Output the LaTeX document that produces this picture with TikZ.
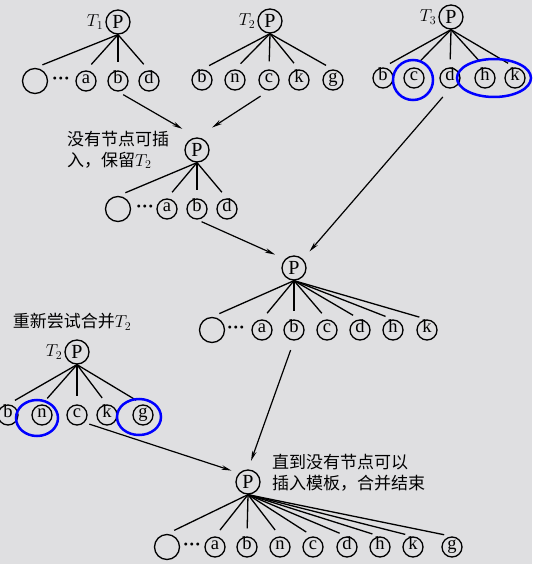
\documentclass[tikz,border=0pt]{standalone}
\usepackage{fontspec}
\setmainfont{Liberation Serif}
\newfontfamily\cjk{Noto Sans CJK SC}
\usepackage{tikz}
\usetikzlibrary{arrows.meta,positioning}
\definecolor{paper}{RGB}{223,223,225}

\begin{document}
\begin{tikzpicture}[x=1pt,y=-1pt,>={Stealth[length=10pt,width=4.5pt]}]
	\tikzstyle{root} = [draw, shape=circle, minimum size=24pt, inner sep=0pt, line width=1.3pt, font=\fontsize{20}{20}\selectfont]
	\tikzstyle{leaf} = [draw, shape=circle, minimum size=20pt, inner sep=0pt, line width=1.3pt, text height=0.68em, text depth=0.2em, font=\fontsize{18.5}{18.5}\selectfont]
	\tikzstyle{hole} = [draw, shape=circle, minimum size=25pt, inner sep=0pt, line width=1.3pt]
	\tikzstyle{dots} = [inner sep=0pt, font=\bfseries\fontsize{18}{18}\selectfont]
	\tikzstyle{tname} = [font=\fontsize{18}{18}\selectfont, inner sep=2pt]
	\tikzstyle{note} = [align=left, inner sep=0pt, font=\cjk\fontsize{17}{21}\selectfont]
	\tikzstyle{twig} = [line width=1.3pt, shorten >=8pt]
	\tikzstyle{flow} = [->, line width=1.2pt]
	\tikzstyle{ring} = [draw=blue, line width=2.5pt]
	\path[use as bounding box, fill=paper] (0,0) rectangle (532,564);
	%Tree T1
	\node [root, label={[tname]left:$T_1$}] (p1) at (118,22) {P};
	\node [hole] (e1) at (35,81) {};
	\node [dots] (dots1) at (61,81) {···};
	\node [leaf] (a1) at (86,81) {a};
	\node [leaf] (b1) at (118,81) {b};
	\node [leaf] (d1) at (149,81) {d};
	%Tree T2
	\node [root, label={[tname]left:$T_2$}] (p2) at (270,21) {P};
	\node [leaf] (b2) at (202,80) {b};
	\node [leaf] (n2) at (235,80) {n};
	\node [leaf] (c2) at (269,80) {c};
	\node [leaf] (k2) at (299,80) {k};
	\node [leaf] (g2) at (333,80) {g};
	%Tree T3
	\node [root, label={[tname]left:$T_3$}] (p3) at (451,17) {P};
	\node [leaf] (b3) at (383,78) {b};
	\node [leaf] (c3) at (414,78) {c};
	\node [leaf] (d3) at (450,78) {d};
	\node [leaf] (h3) at (485,78) {h};
	\node [leaf] (k3) at (515,78) {k};
	%First merge
	\node [root] (pm) at (197,150) {P};
	\node [note, left=15pt of pm] (keep) {没有节点可插\\入，保留$T_2$};
	\node [hole] (em) at (118,209) {};
	\node [dots] (dotsm) at (145,209) {···};
	\node [leaf] (am) at (167,209) {a};
	\node [leaf] (bm) at (197,209) {b};
	\node [leaf] (dm) at (227,209) {d};
	%Second merge
	\node [root] (pc) at (294,268) {P};
	\node [hole] (ec) at (212,330) {};
	\node [dots] (dotsc) at (236,330) {···};
	\node [leaf] (ac) at (262,330) {a};
	\node [leaf] (bc) at (294,330) {b};
	\node [leaf] (cc) at (327,330) {c};
	\node [leaf] (dc) at (360,330) {d};
	\node [leaf] (hc) at (393,330) {h};
	\node [leaf] (kc) at (427,330) {k};
	%Retry T2
	\node [note] (retry) at (72,322) {重新尝试合并$T_2$};
	\node [root, label={[tname]left:$T_2$}] (pr) at (77,352) {P};
	\node [leaf] (br) at (8,415) {b};
	\node [leaf] (nr) at (42,415) {n};
	\node [leaf] (cr) at (77,415) {c};
	\node [leaf] (kr) at (107,415) {k};
	\node [leaf] (gr) at (143,415) {g};
	%Final tree
	\node [root] (pf) at (248,482) {P};
	\node [note, right=15pt of pf.north east] (done) {直到没有节点可以\\插入模板，合并结束};
	\node [hole] (ef) at (167,547) {};
	\node [dots] (dotsf) at (192,547) {···};
	\node [leaf] (af) at (215,547) {a};
	\node [leaf] (bf) at (247,547) {b};
	\node [leaf] (nf) at (280,547) {n};
	\node [leaf] (cf) at (313,547) {c};
	\node [leaf] (df) at (347,547) {d};
	\node [leaf] (hf) at (380,547) {h};
	\node [leaf] (kf) at (413,547) {k};
	\node [leaf] (gf) at (452,547) {g};
	%Branches
	\draw [twig] (p1.south) edge (e1.north) edge (a1.north) edge (b1.north) edge (d1.north);
	\draw [twig] (p2.south) edge (b2.north) edge (n2.north) edge (c2.north) edge (k2.north) edge (g2.north);
	\draw [twig] (p3.south) edge (b3.north) edge (c3.north) edge (d3.north) edge (h3.north) edge (k3.north);
	\draw [twig] (pm.south) edge (em.north) edge (am.north) edge (bm.north) edge (dm.north);
	\draw [twig] (pc.south) edge (ec.north) edge (ac.north) edge (bc.north) edge (cc.north) edge (dc.north) edge (hc.north) edge (kc.north);
	\draw [twig] (pr.south) edge (br.north) edge (nr.north) edge (cr.north) edge (kr.north) edge (gr.north);
	\draw [twig] (pf.south) edge (ef.north) edge (af.north) edge (bf.north) edge (nf.north) edge (cf.north) edge (df.north) edge (hf.north) edge (kf.north) edge (gf.north);
	%Merging arrows
	\draw [flow, shorten <=6pt, shorten >=17pt] (b1.south) -- (pm.north);
	\draw [flow, shorten <=10pt, shorten >=18pt] (c2.south) -- (pm.north);
	\draw [flow, shorten <=5pt, shorten >=11pt] (bm.south) -- (pc.north west);
	\draw [flow, shorten <=11pt, shorten >=10pt] (d3.south) -- (pc.north east);
	\draw [flow, shorten <=10pt, shorten >=9pt] (bc.south) -- (pf.north);
	\draw [flow, shorten <=5pt, shorten >=8pt] (cr.south east) -- (pf.north west);
	%Marked nodes
	\draw [ring] (c3) ++(-1,2) circle [radius=20pt];
	\draw [ring] (h3) ++(9,0) ellipse [x radius=37pt, y radius=19pt];
	\draw [ring] (nr) ++(-5,3) ellipse [x radius=21pt, y radius=18pt];
	\draw [ring] (gr) ++(-4,2) ellipse [x radius=22pt, y radius=18pt];
\end{tikzpicture}
\end{document}
